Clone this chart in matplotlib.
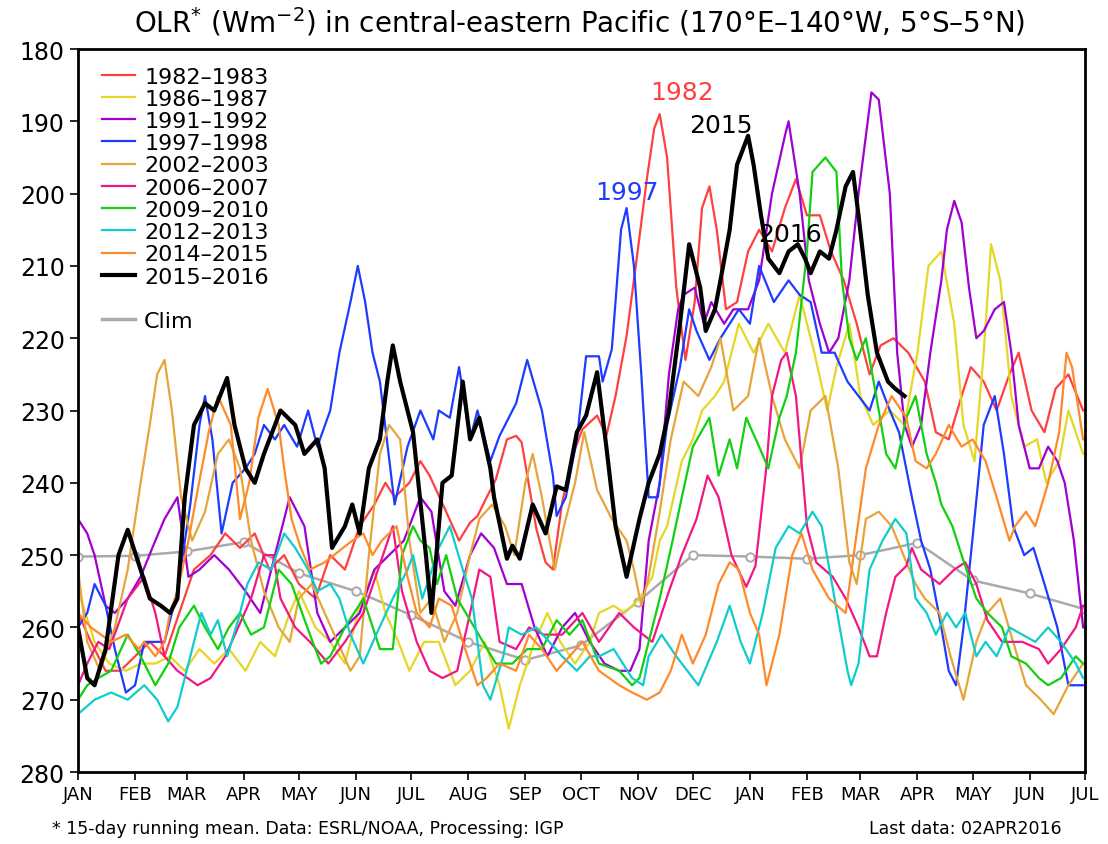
#!/usr/bin/env python3
"""OLR (15-day running mean) over the central-eastern Pacific for El Nino years."""

import matplotlib

matplotlib.use("Agg")
import matplotlib.pyplot as plt
from matplotlib.lines import Line2D

# x = days since 1 January of the first year, y = OLR (W m-2)
MONTH_DAYS = [0, 31, 59, 90, 120, 151, 181, 212, 243, 273, 304, 334,
              365, 396, 425, 456, 486, 517, 547]
MONTH_LABELS = ["JAN", "FEB", "MAR", "APR", "MAY", "JUN", "JUL", "AUG", "SEP",
                "OCT", "NOV", "DEC", "JAN", "FEB", "MAR", "APR", "MAY", "JUN", "JUL"]

CLIM = [250.2, 250.1, 249.5, 248.2, 252.5, 255.0, 258.3, 262.0, 264.5, 262.5,
        256.5, 250.0, 250.2, 250.5, 250.0, 248.3, 253.5, 255.3, 257.5]

OLR_1982 = [(0, 258), (7, 262), (15, 266), (23, 266), (31, 264), (39, 262), (47, 264), (55, 258),
            (63, 252), (72, 250), (80, 247), (88, 249), (96, 247), (104, 252), (112, 250),
            (120, 254), (129, 256), (137, 250), (145, 252), (153, 246), (161, 243), (167, 240),
            (172, 242), (180, 240), (186, 237), (191, 239), (200, 244), (207, 248), (213, 245.5),
            (217, 244.6), (222, 242), (227, 239.5), (233, 234), (238, 233.5), (241, 234.4),
            (245, 240.4), (249, 246.4), (254, 251), (258, 252), (263, 242.7), (269, 236),
            (274, 232.6), (282, 230.7), (287, 233.5), (292, 228), (298, 219.7), (304, 208),
            (309, 198), (313, 191), (316, 189), (320, 195), (325, 213), (330, 223), (335, 215),
            (339, 202), (343, 199), (347, 205), (352, 216), (358, 215), (364, 208), (370, 205),
            (377, 208), (384, 202), (390, 198), (396, 203), (403, 203), (409, 208), (416, 212),
            (423, 218), (430, 225), (436, 221), (443, 220), (451, 222), (460, 226), (466, 233),
            (473, 234), (480, 228), (485, 224), (492, 226), (499, 230), (506, 225), (511, 222),
            (518, 230), (525, 233), (531, 227), (538, 225), (546, 230)]

OLR_1986 = [(0, 255), (4, 258), (9, 262), (17, 265), (26, 266), (34, 265), (42, 265), (50, 264),
            (58, 266), (66, 263), (74, 265), (82, 263), (91, 266), (99, 262), (107, 264),
            (115, 258), (120, 255), (129, 260), (137, 262), (145, 265), (153, 257), (161, 252),
            (167, 258), (174, 262), (180, 266), (188, 262), (196, 262), (205, 268), (213, 266),
            (221, 262), (229, 268), (234, 274), (240, 268), (248, 262), (255, 258), (262, 262),
            (270, 265), (278, 262), (283, 258), (291, 257), (297, 258), (305, 256), (312, 253),
            (316, 248), (320, 246), (328, 237), (334, 234), (339, 230), (346, 228), (351, 226),
            (359, 218), (367, 222), (375, 218), (384, 222), (392, 214), (400, 222), (407, 230),
            (412, 224), (419, 218), (425, 228), (432, 232), (441, 230), (449, 232), (456, 222),
            (462, 210), (469, 208), (476, 218), (481, 232), (487, 237), (492, 222), (496, 207),
            (501, 212), (507, 228), (514, 235), (521, 234), (526, 240), (533, 237), (538, 230),
            (546, 236)]

OLR_1991 = [(0, 245), (5, 247), (9, 250), (15, 257), (20, 258), (27, 256), (34, 253), (42, 248),
            (47, 245), (54, 242), (60, 253), (66, 252), (74, 250), (82, 252), (91, 255), (99, 258),
            (107, 250), (115, 242), (123, 246), (130, 258), (137, 262), (145, 260), (153, 258),
            (161, 252), (169, 250), (177, 248), (186, 242), (192, 244), (199, 255), (205, 257),
            (213, 250), (219, 247), (226, 249), (233, 254), (241, 254), (248, 260), (255, 264),
            (263, 260), (270, 258), (278, 262), (286, 265), (294, 266), (300, 266), (305, 263),
            (310, 248), (316, 240), (321, 225), (326, 216), (329, 214), (335, 213), (340, 218),
            (344, 215), (351, 218), (356, 216), (364, 216), (370, 212), (377, 200), (384, 192),
            (386, 190), (392, 200), (397, 212), (403, 218), (408, 222), (413, 220), (419, 212),
            (424, 200), (429, 190), (431, 186), (435, 187), (441, 200), (445, 222), (449, 232),
            (453, 235), (458, 232), (463, 222), (469, 212), (472, 205), (476, 201), (480, 204),
            (484, 213), (488, 220), (492, 219), (498, 216), (503, 215), (507, 222), (511, 232),
            (517, 238), (522, 238), (527, 235), (532, 237), (536, 240), (541, 248), (546, 260)]

OLR_1997 = [(0, 260), (5, 258), (9, 254), (15, 257), (20, 263), (26, 269), (31, 268), (36, 262),
            (42, 262), (47, 262), (54, 255), (61, 243), (66, 232), (69, 228), (73, 234), (78, 247),
            (84, 240), (91, 238), (96, 236), (101, 232), (107, 234), (112, 232), (119, 235),
            (125, 230), (130, 235), (137, 230), (142, 222), (148, 215), (152, 210), (156, 215),
            (160, 222), (164, 226), (172, 243), (179, 235), (186, 230), (193, 234), (196, 230),
            (202, 231), (207, 224), (213, 234), (217, 230), (224, 237), (229, 233.5), (238, 229),
            (244, 223), (252, 230), (258, 239), (260, 244.6), (265, 242), (271, 234),
            (276, 222.5), (283, 222.5), (285, 226), (290, 221.5), (295, 205), (298, 202),
            (302, 210), (306, 225), (310, 242), (315, 242), (320, 232), (327, 224), (332, 216),
            (336, 219), (343, 223), (349, 220), (354, 218), (359, 216), (365, 218), (370, 210),
            (378, 215), (386, 212), (392, 214), (398, 215), (404, 222), (411, 222), (418, 226),
            (424, 228), (430, 230), (435, 226), (441, 230), (446, 233), (453, 242), (458, 248),
            (463, 252), (469, 260), (473, 266), (477, 268), (481, 260), (487, 245), (492, 232),
            (498, 228), (503, 236), (508, 246), (514, 250), (519, 249), (525, 254), (532, 260),
            (538, 268), (546, 268)]

OLR_2002 = [(0, 252), (5, 262), (12, 266), (20, 260), (27, 252), (34, 240), (39, 232), (43, 225),
            (47, 223), (51, 230), (56, 242), (62, 248), (69, 244), (76, 236), (82, 234), (88, 238),
            (94, 248), (101, 255), (109, 260), (115, 262), (120, 256), (127, 254), (134, 258),
            (141, 262), (148, 266), (153, 264), (158, 250), (164, 236), (169, 232), (175, 234),
            (180, 248), (186, 258), (192, 256), (199, 262), (206, 258), (213, 250), (218, 245),
            (225, 243), (232, 246), (237, 250), (243, 240), (247, 236), (252, 242), (259, 252),
            (264, 246), (270, 240), (275, 233), (282, 241), (290, 245), (298, 248), (302, 252),
            (306, 257), (310, 253), (316, 244), (322, 234), (329, 226), (337, 228), (344, 224),
            (349, 220), (356, 230), (364, 228), (370, 220), (377, 228), (384, 234), (392, 238),
            (398, 230), (406, 228), (413, 238), (419, 251), (423, 254), (428, 245), (435, 244),
            (442, 246), (450, 251), (455, 254), (460, 256), (468, 258), (474, 264), (481, 270),
            (488, 262), (494, 258), (501, 256), (508, 262), (515, 268), (523, 270), (530, 272),
            (538, 268), (546, 265)]

OLR_2006 = [(0, 268), (5, 265), (11, 262), (17, 263), (27, 256), (36, 253), (42, 258), (47, 264),
            (54, 266), (65, 268), (72, 267), (80, 264), (87, 260), (94, 256), (101, 250),
            (106, 250), (110, 256), (118, 260), (126, 262), (136, 265), (145, 262), (155, 258),
            (163, 252), (171, 246), (176, 255), (184, 262), (191, 266), (198, 267), (206, 266),
            (213, 258), (218, 252), (224, 253), (229, 262), (238, 263), (245, 260), (253, 261),
            (263, 261), (274, 258), (283, 262), (294, 258), (302, 260), (312, 262), (321, 255),
            (328, 250), (336, 245), (342, 239), (348, 242), (355, 250), (363, 254.4),
            (368, 251.5), (374, 237.7), (377, 228), (382, 223), (385, 222), (390, 228),
            (396, 246), (401, 251), (410, 253), (417, 256), (424, 260), (430, 264), (434, 264),
            (439, 258), (444, 253), (450, 251.5), (453, 249), (458, 252), (468, 254), (476, 252),
            (482, 251), (488, 254), (494, 259), (502, 262), (513, 262), (522, 263), (527, 265),
            (534, 263), (542, 260), (546, 257)]

OLR_2009 = [(0, 270), (5, 268), (11, 267), (18, 266), (27, 261), (34, 264), (42, 268), (49, 265),
            (55, 260), (63, 257), (69, 260), (76, 263), (82, 260), (88, 258), (94, 261), (101, 260),
            (109, 252), (116, 254), (126, 261), (132, 265), (137, 264), (145, 260), (155, 256),
            (164, 263), (171, 263), (176, 250), (182, 246), (186, 248), (191, 249), (195, 254),
            (200, 250), (206, 256), (213, 259), (220, 262), (227, 265), (236, 265), (244, 263),
            (252, 263), (260, 259), (267, 261), (274, 259), (283, 265), (294, 266), (301, 268),
            (305, 267), (316, 256), (323, 248), (328, 242), (334, 235), (343, 231), (348, 239),
            (354, 234), (358, 238), (363, 231), (370, 235), (375, 238), (381, 231), (385, 228),
            (390, 222), (396, 208), (399, 197), (406, 195), (412, 197), (415, 212), (419, 220),
            (423, 223), (428, 220), (435, 230), (439, 236), (444, 238), (450, 231), (455, 228),
            (461, 236), (466, 240), (469, 243), (475, 246), (480, 250), (488, 256), (494, 258),
            (502, 260), (507, 264), (515, 265), (522, 267), (527, 268), (534, 267), (542, 264),
            (546, 265)]

OLR_2012 = [(0, 272), (9, 270), (18, 269), (27, 270), (36, 268), (43, 270), (49, 273), (54, 271),
            (60, 265), (67, 258), (72, 261), (76, 259), (81, 264), (87, 259), (92, 254), (98, 251),
            (105, 252), (112, 247), (118, 249), (125, 252), (130, 255), (137, 254), (142, 256),
            (148, 261), (155, 265), (162, 261), (171, 256), (179, 252), (182, 250), (187, 256),
            (191, 253), (196, 249), (202, 246), (209, 252), (214, 256), (220, 268), (224, 270),
            (231, 264), (234, 260), (241, 261), (249, 260), (256, 262), (263, 264), (271, 266),
            (278, 264), (283, 264), (291, 263), (301, 267), (307, 268), (310, 264), (317, 261),
            (325, 264), (337, 268), (347, 262), (354, 257), (360, 262), (365, 265), (372, 258),
            (379, 249), (386, 246), (392, 247), (399, 244), (404, 246), (411, 256), (418, 266),
            (420, 268), (424, 265), (430, 252), (437, 248), (444, 245), (450, 247), (455, 256),
            (461, 258), (466, 261), (472, 258), (477, 260), (482, 258), (488, 264), (493, 262),
            (499, 264), (506, 260), (513, 261), (520, 262), (527, 260), (534, 262), (542, 265),
            (546, 267)]

OLR_2014 = [(0, 258), (7, 260), (18, 262), (26, 261), (33, 263), (36, 262), (42, 264), (47, 262),
            (50, 258), (54, 255), (60, 248), (65, 241), (71, 233), (76, 228), (83, 232), (88, 245),
            (93, 240), (98, 231), (103, 227), (109, 232), (112, 238), (116, 245), (121, 249),
            (126, 252), (134, 251), (139, 250), (144, 249), (149, 248), (155, 247), (160, 250),
            (165, 248), (173, 246), (179, 253), (184, 258), (191, 260), (196, 256), (203, 257),
            (209, 262), (217, 268), (222, 267), (229, 265), (238, 266), (245, 261), (252, 263),
            (260, 266), (267, 264), (274, 262), (283, 266), (294, 268), (301, 269), (309, 270),
            (316, 269), (322, 266), (328, 261), (334, 265), (341, 261), (348, 254), (354, 251),
            (359, 252), (365, 258), (370, 261), (374, 268), (381, 261), (388, 250), (393, 247),
            (399, 252), (408, 256), (417, 258), (423, 247), (428, 238), (435, 232), (442, 228),
            (450, 231), (455, 237), (461, 238), (466, 236), (473, 232), (480, 235), (486, 234),
            (493, 237), (499, 242), (506, 248), (509, 246), (515, 244), (520, 246), (527, 240),
            (533, 233), (537, 222), (540, 224), (546, 234)]

OLR_2015 = [(0, 260), (5, 267), (9, 268), (15, 263), (22, 250), (27, 246.5), (34, 252), (39, 256),
            (45, 257), (50, 258), (54, 256), (58, 242), (63, 232), (69, 229), (74, 230),
            (81, 225.5), (85, 232), (91, 238), (96, 240), (101, 236), (110, 230), (118, 232),
            (123, 236), (130, 234), (134, 238), (138, 249), (145, 246), (149, 243), (153, 247),
            (158, 238), (164, 234), (168, 226), (171, 221), (175, 226), (182, 233), (189, 250),
            (192, 258), (198, 240), (203, 239), (209, 226), (213, 234), (218, 231), (224, 238),
            (226, 242), (233, 250.5), (236, 248.7), (240, 250.5), (247, 243), (254, 247),
            (260, 240.5), (265, 241), (271, 233), (276, 230.7), (282, 224.7), (287, 235),
            (292, 246), (298, 253), (305, 245), (310, 240), (316, 236), (321, 230), (327, 218),
            (332, 207), (338, 213), (341, 219), (346, 216), (349, 212), (354, 205), (358, 196),
            (364, 192), (367, 196), (371, 203), (375, 209), (381, 211), (386, 208), (391, 207),
            (395, 209), (398, 211), (403, 208), (408, 209), (412, 205), (417, 199), (421, 197),
            (424, 203), (429, 214), (434, 222), (440, 226), (444, 227), (449, 228)]

SERIES = [
    ("1982\u20131983", OLR_1982, "#ff4040"),
    ("1986\u20131987", OLR_1986, "#e6d626"),
    ("1991\u20131992", OLR_1991, "#a000d0"),
    ("1997\u20131998", OLR_1997, "#1e3cff"),
    ("2002\u20132003", OLR_2002, "#e6a53a"),
    ("2006\u20132007", OLR_2006, "#f01884"),
    ("2009\u20132010", OLR_2009, "#10d010"),
    ("2012\u20132013", OLR_2012, "#10cccc"),
    ("2014\u20132015", OLR_2014, "#ff8a2a"),
]

YEAR_TAGS = [("1982", 328, 186.0, "#ff4040"), ("2015", 349, 190.5, "black"),
             ("1997", 298, 199.8, "#1e3cff"), ("2016", 387, 205.6, "black")]


def main() -> None:
    plt.rcParams.update({"font.family": "DejaVu Sans"})
    fig = plt.figure(figsize=(11.08, 8.45), dpi=100)
    ax = fig.add_axes([0.0704, 0.0852, 0.9088, 0.8556])

    ax.plot(MONTH_DAYS, CLIM, color="#aaaaaa", lw=1.8, marker="o", ms=6,
            mfc="white", mec="#aaaaaa", mew=1.4, zorder=1)

    handles = []
    for label, pts, color in SERIES:
        days = [p[0] for p in pts]
        vals = [p[1] for p in pts]
        (ln,) = ax.plot(days, vals, color=color, lw=1.6, label=label, zorder=2)
        handles.append(ln)
    days = [p[0] for p in OLR_2015]
    vals = [p[1] for p in OLR_2015]
    (ln,) = ax.plot(days, vals, color="black", lw=3.0, label="2015\u20132016", zorder=3)
    handles.append(ln)

    blank = Line2D([], [], color="none", label=" ")
    clim_h = Line2D([], [], color="#aaaaaa", lw=2.5, label="Clim")
    ax.legend(handles=handles + [blank, clim_h], loc="upper left",
              bbox_to_anchor=(0.015, 0.988), frameon=False, fontsize=16,
              handlelength=1.5, handletextpad=0.4, labelspacing=0.1,
              borderaxespad=0.0)

    for text, d, v, color in YEAR_TAGS:
        ax.text(d, v, text, color=color, fontsize=18, ha="center", va="center")

    ax.set_xlim(0, 547)
    ax.set_ylim(280, 180)
    ax.set_xticks(MONTH_DAYS)
    ax.set_xticklabels(MONTH_LABELS, fontsize=13)
    ax.set_yticks(range(180, 281, 10))
    ax.tick_params(axis="y", labelsize=17, length=6, width=1.2, direction="out")
    ax.tick_params(axis="x", length=6, width=1.2, direction="out", pad=3)
    for spine in ax.spines.values():
        spine.set_linewidth(2.0)

    fig.text(0.523, 0.974, "OLR$^{*}$ (Wm$^{-2}$) in central-eastern Pacific "
             "(170\u00b0E\u2013140\u00b0W, 5\u00b0S\u20135\u00b0N)",
             ha="center", va="center", fontsize=20)
    fig.text(0.047, 0.008, "* 15-day running mean. Data: ESRL/NOAA, Processing: IGP",
             ha="left", va="bottom", fontsize=12.5)
    fig.text(0.958, 0.008, "Last data: 02APR2016", ha="right", va="bottom", fontsize=12.5)

    fig.savefig("out.png", dpi=100)
    plt.close(fig)


if __name__ == "__main__":
    main()
